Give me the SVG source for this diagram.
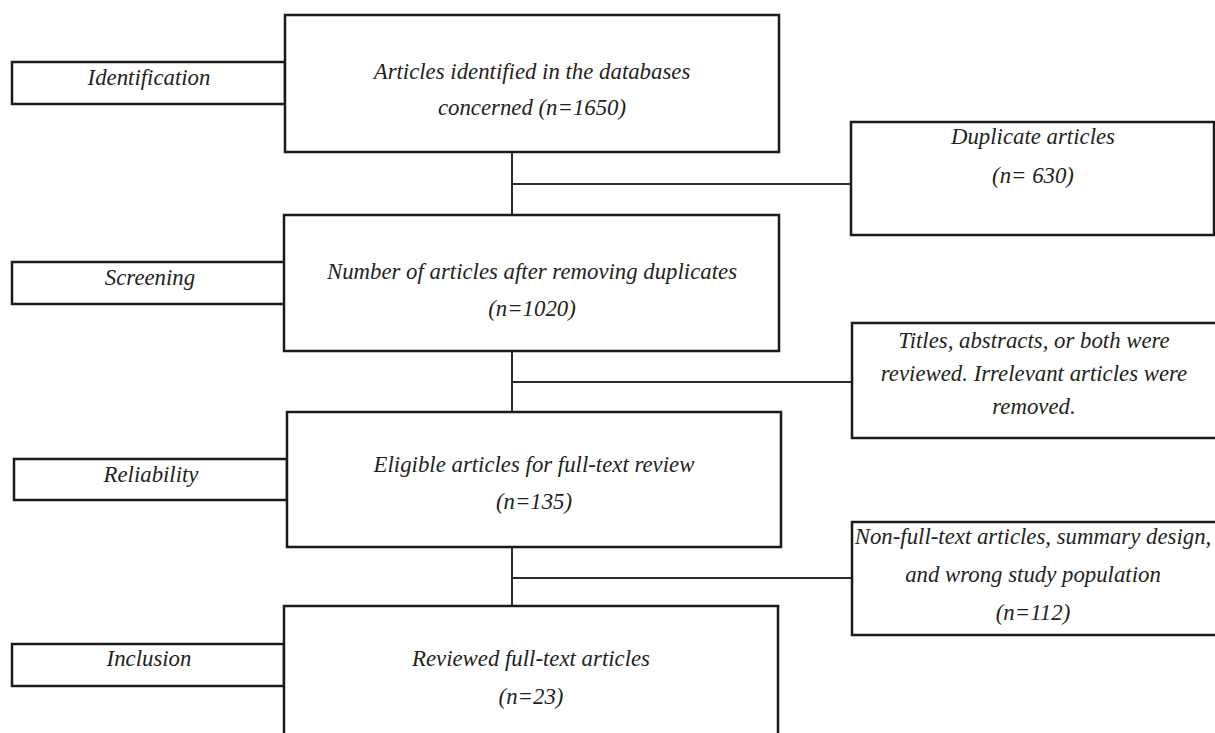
<svg xmlns="http://www.w3.org/2000/svg" width="1215" height="733" viewBox="0 0 1215 733">
<style>
.box{fill:#fff;stroke:#1a1a1a;stroke-width:2.5}
.con{fill:none;stroke:#2b2b2b;stroke-width:2}
text{font-family:"Liberation Serif","DejaVu Serif",serif;font-style:italic;font-size:22.8px;fill:#231f20;text-anchor:middle}
</style>
<rect width="1215" height="733" fill="#fff"/>
<g id="connectors">
<line class="con" x1="512" y1="152" x2="512" y2="215"/>
<line class="con" x1="512" y1="184" x2="852" y2="184"/>
<line class="con" x1="512" y1="351" x2="512" y2="412"/>
<line class="con" x1="512" y1="382" x2="852" y2="382"/>
<line class="con" x1="512" y1="547" x2="512" y2="606"/>
<line class="con" x1="512" y1="578" x2="852" y2="578"/>
</g>
<g id="identification">
<rect class="box" x="12" y="62" width="273" height="42"/>
<text x="149" y="85">Identification</text>
</g>
<g id="screening">
<rect class="box" x="12" y="262" width="273" height="42"/>
<text x="150" y="285">Screening</text>
</g>
<g id="reliability">
<rect class="box" x="14" y="459" width="273" height="41"/>
<text x="151" y="482">Reliability</text>
</g>
<g id="inclusion">
<rect class="box" x="12" y="644" width="272" height="42"/>
<text x="149" y="666">Inclusion</text>
</g>
<g id="identified">
<rect class="box" x="285" y="15" width="494" height="137"/>
<text x="532" y="79">Articles identified in the databases</text>
<text x="532" y="115">concerned (n=1650)</text>
</g>
<g id="after-duplicates">
<rect class="box" x="284" y="215" width="495" height="136"/>
<text x="532" y="279">Number of articles after removing duplicates</text>
<text x="532" y="316">(n=1020)</text>
</g>
<g id="eligible">
<rect class="box" x="287" y="412" width="494" height="135"/>
<text x="534" y="472">Eligible articles for full-text review</text>
<text x="534" y="509">(n=135)</text>
</g>
<g id="reviewed">
<rect class="box" x="284" y="606" width="494" height="140"/>
<text x="531" y="666">Reviewed full-text articles</text>
<text x="531" y="704">(n=23)</text>
</g>
<g id="duplicates">
<rect class="box" x="851" y="122" width="363" height="113"/>
<text x="1033" y="144">Duplicate articles</text>
<text x="1033" y="183">(n= 630)</text>
</g>
<g id="titles-abstracts">
<rect class="box" x="852" y="323" width="365" height="115"/>
<text x="1034" y="348">Titles, abstracts, or both were</text>
<text x="1034" y="381">reviewed. Irrelevant articles were</text>
<text x="1034" y="414">removed.</text>
</g>
<g id="non-full-text">
<rect class="box" x="852" y="522" width="365" height="113"/>
<text x="1033" y="544">Non-full-text articles, summary design,</text>
<text x="1033" y="582">and wrong study population</text>
<text x="1033" y="620">(n=112)</text>
</g>
</svg>
